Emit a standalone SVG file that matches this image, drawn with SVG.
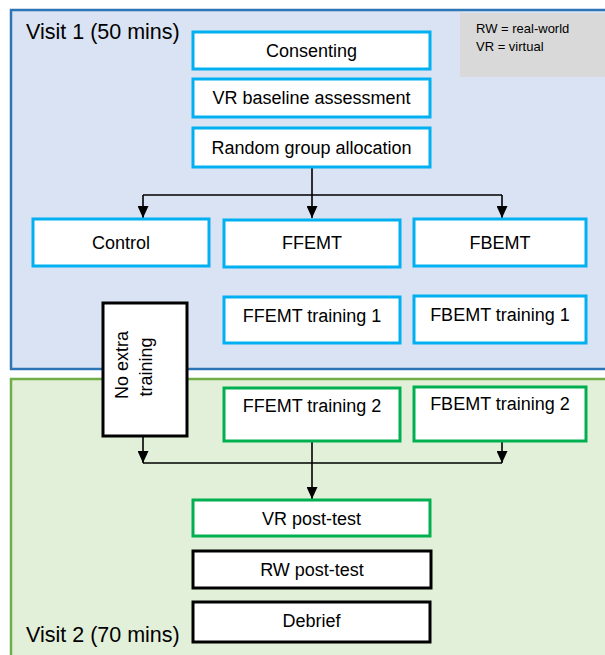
<svg xmlns="http://www.w3.org/2000/svg" width="605" height="655" viewBox="0 0 605 655">
<style>
text{font-family:"Liberation Sans",Arial,sans-serif;fill:#000}
.t{font-size:18px;text-anchor:middle}
.cy{fill:#fff;stroke:#00B0F0;stroke-width:3}
.gr{fill:#fff;stroke:#00B050;stroke-width:3}
.bk{fill:#fff;stroke:#000;stroke-width:3}
.ln{fill:none;stroke:#000;stroke-width:1.6}
</style>
<defs>
<marker id="ah" viewBox="0 0 12 11" refX="12" refY="5.5" markerWidth="12" markerHeight="11" markerUnits="userSpaceOnUse" orient="auto"><path d="M0,0 L12,5.5 L0,11 Z" fill="#000"/></marker>
</defs>
<g id="visit1">
<rect x="11" y="10" width="610" height="359" fill="#DAE3F3" stroke="#2E75B6" stroke-width="2.5"/>
<text x="26" y="39" font-size="21.5">Visit 1 (50 mins)</text>
</g>
<g id="visit2">
<rect x="11" y="379" width="610" height="300" fill="#E2F0D9" stroke="#70AD47" stroke-width="2.5"/>
<text x="26" y="642" font-size="21.5">Visit 2 (70 mins)</text>
</g>
<g id="legend">
<rect x="460" y="13" width="150" height="64" fill="#D9D9D9"/>
<text x="476" y="33" font-size="13">RW = real-world</text>
<text x="476" y="51" font-size="13">VR = virtual</text>
</g>
<g id="connectors">
<path class="ln" d="M312,167 V195 M143,195 H502 M143,463 H502"/>
<path class="ln" d="M143,195 V218" marker-end="url(#ah)"/>
<path class="ln" d="M312,195 V218" marker-end="url(#ah)"/>
<path class="ln" d="M502,195 V218" marker-end="url(#ah)"/>
<path class="ln" d="M143,436 V463" marker-end="url(#ah)"/>
<path class="ln" d="M502,441 V463" marker-end="url(#ah)"/>
<path class="ln" d="M312,441 V499" marker-end="url(#ah)"/>
</g>
<g id="consenting"><rect class="cy" x="193" y="32" width="237" height="37"/><text class="t" x="311.5" y="57">Consenting</text></g>
<g id="vr-baseline"><rect class="cy" x="193" y="79" width="237" height="38"/><text class="t" x="311.5" y="104">VR baseline assessment</text></g>
<g id="random"><rect class="cy" x="193" y="128" width="237" height="39"/><text class="t" x="311.5" y="154">Random group allocation</text></g>
<g id="control"><rect class="cy" x="33" y="219" width="176" height="47"/><text class="t" x="121" y="249" font-size="19.5">Control</text></g>
<g id="ffemt"><rect class="cy" x="224" y="220" width="176" height="47"/><text class="t" x="312" y="249">FFEMT</text></g>
<g id="fbemt"><rect class="cy" x="414" y="219" width="172" height="47"/><text class="t" x="500" y="249">FBEMT</text></g>
<g id="ffemt-t1"><rect class="cy" x="224" y="297" width="176" height="46"/><text class="t" x="312" y="322">FFEMT training 1</text></g>
<g id="fbemt-t1"><rect class="cy" x="414" y="296" width="172" height="47"/><text class="t" x="500" y="321">FBEMT training 1</text></g>
<g id="no-extra"><rect class="bk" x="103" y="303" width="84" height="133"/>
<text class="t" transform="translate(128,365) rotate(-90)">No extra</text>
<text class="t" transform="translate(152,367) rotate(-90)">training</text></g>
<g id="ffemt-t2"><rect class="gr" x="224" y="388" width="176" height="53"/><text class="t" x="312" y="412">FFEMT training 2</text></g>
<g id="fbemt-t2"><rect class="gr" x="414" y="387" width="172" height="54"/><text class="t" x="500" y="410">FBEMT training 2</text></g>
<g id="vr-post"><rect class="gr" x="193" y="500" width="237" height="36"/><text class="t" x="311.5" y="525">VR post-test</text></g>
<g id="rw-post"><rect class="bk" x="193" y="551" width="238" height="37"/><text class="t" x="312" y="576">RW post-test</text></g>
<g id="debrief"><rect class="bk" x="193" y="602" width="237" height="40"/><text class="t" x="311.5" y="627">Debrief</text></g>
</svg>
